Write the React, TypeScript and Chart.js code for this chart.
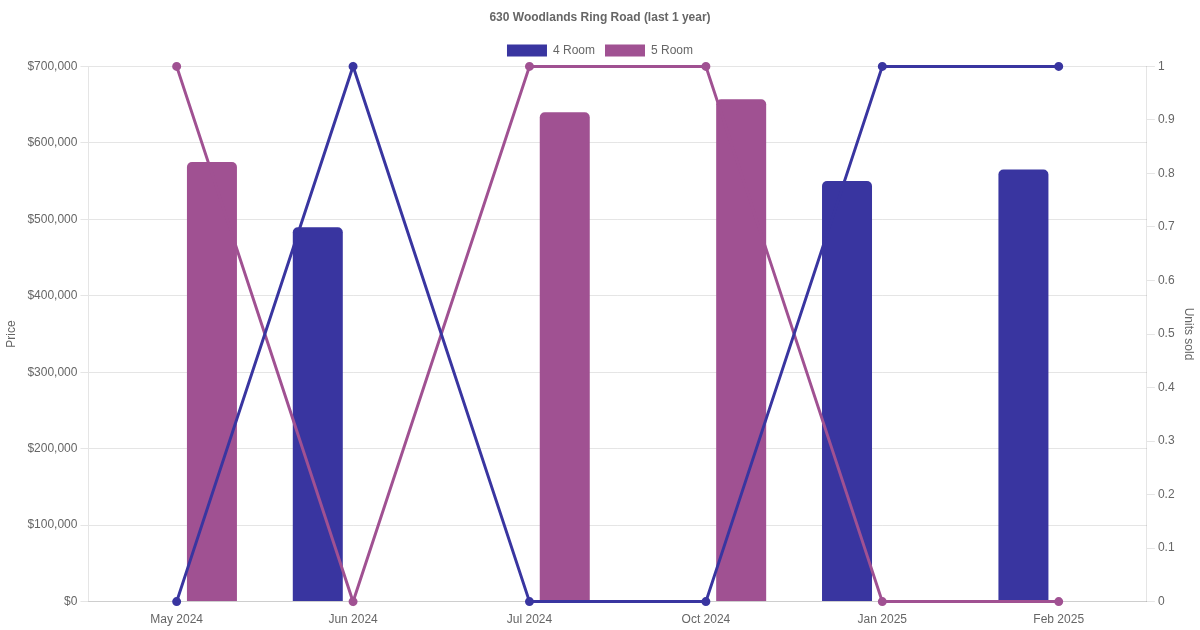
import React, { useRef, useEffect } from 'react';
import { Chart, registerables } from 'chart.js';

Chart.register(...registerables);

const MONTHS = ['May 2024', 'Jun 2024', 'Jul 2024', 'Oct 2024', 'Jan 2025', 'Feb 2025'];
const PRICE_4_ROOM = [null, 489500, null, null, 550000, 565000];
const PRICE_5_ROOM = [575000, null, 640000, 657000, null, null];
const UNITS_4_ROOM = [0, 1, 0, 0, 1, 1];
const UNITS_5_ROOM = [1, 0, 1, 1, 0, 0];

const BLUE = '#3935A0';
const PURPLE = '#A05192';
const TEXT = '#666666';

const App: React.FC = () => {
    const chartRef = useRef<HTMLCanvasElement>(null);
    const chartInstance = useRef<Chart | null>(null);

    useEffect(() => {
        document.body.style.margin = '0';
        if (!chartRef.current) return;
        if (chartInstance.current) chartInstance.current.destroy();

        const ctx = chartRef.current.getContext('2d');
        if (!ctx) return;

        Chart.defaults.font.family = "'Liberation Sans', Arial, sans-serif";
        Chart.defaults.font.size = 12;
        Chart.defaults.color = TEXT;

        const lineStyle = {
            type: 'line' as const,
            yAxisID: 'y1',
            borderWidth: 3,
            pointRadius: 3,
            tension: 0,
            clip: false as const,
            order: 1,
        };
        const barStyle = {
            type: 'bar' as const,
            yAxisID: 'y',
            borderRadius: 5,
            borderSkipped: 'bottom' as const,
            maxBarThickness: 50,
            order: 2,
        };

        chartInstance.current = new Chart(ctx, {
            type: 'bar',
            data: {
                labels: MONTHS,
                datasets: [
                    { ...lineStyle, label: '4 Room units', data: UNITS_4_ROOM, borderColor: BLUE, backgroundColor: BLUE },
                    { ...lineStyle, label: '5 Room units', data: UNITS_5_ROOM, borderColor: PURPLE, backgroundColor: PURPLE },
                    { ...barStyle, label: '4 Room', data: PRICE_4_ROOM, borderColor: BLUE, backgroundColor: BLUE },
                    { ...barStyle, label: '5 Room', data: PRICE_5_ROOM, borderColor: PURPLE, backgroundColor: PURPLE },
                ] as any,
            },
            options: {
                responsive: false,
                maintainAspectRatio: false,
                animation: false,
                plugins: {
                    title: {
                        display: true,
                        text: '630 Woodlands Ring Road (last 1 year)',
                        color: TEXT,
                        font: { size: 12, weight: 'bold' },
                    },
                    legend: {
                        display: true,
                        labels: {
                            color: TEXT,
                            filter: (item) => item.text === '4 Room' || item.text === '5 Room',
                        },
                    },
                    tooltip: { enabled: false },
                },
                scales: {
                    x: {
                        grid: { display: false },
                        ticks: { color: TEXT },
                    },
                    y: {
                        position: 'left',
                        min: 0,
                        max: 700000,
                        ticks: {
                            stepSize: 100000,
                            color: TEXT,
                            callback: (v) => '$' + Number(v).toLocaleString('en-US'),
                        },
                        title: { display: true, text: 'Price', color: TEXT },
                        afterFit: (scale) => { scale.width = scale.width + 2; },
                    },
                    y1: {
                        position: 'right',
                        min: 0,
                        max: 1,
                        ticks: {
                            stepSize: 0.1,
                            color: TEXT,
                            callback: (v) => String(Math.round(Number(v) * 10) / 10),
                        },
                        grid: { drawOnChartArea: false },
                        title: { display: true, text: 'Units sold', color: TEXT },
                    },
                },
            },
        });

        return () => { chartInstance.current?.destroy(); };
    }, []);

    return (
        <div style={{ width: 1200, height: 630 }}>
            <canvas ref={chartRef} width={1200} height={630} />
        </div>
    );
};

export default App;
